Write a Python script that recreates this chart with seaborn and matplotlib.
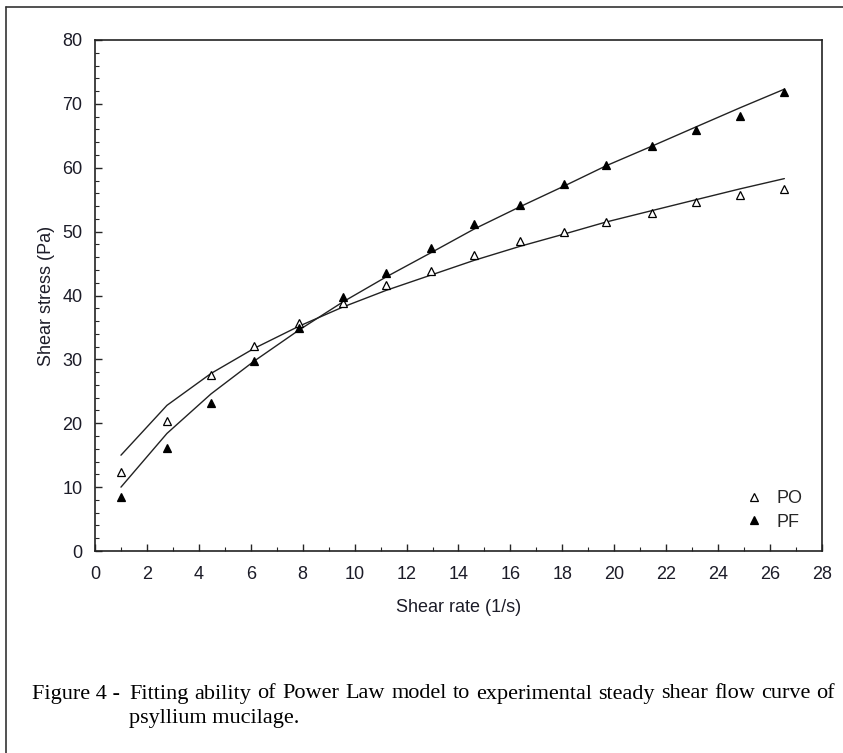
import matplotlib.pyplot as plt
import seaborn as sns
from matplotlib.lines import Line2D
from matplotlib.ticker import MultipleLocator

# shear rate (1/s)
shear_rate = [1.0, 2.77, 4.47, 6.12, 7.86, 9.55, 11.21, 12.94,
              14.6, 16.37, 18.05, 19.68, 21.46, 23.15, 24.85, 26.55]

# measured shear stress (Pa)
po_stress = [12.3, 20.4, 27.6, 32.1, 35.7, 38.8, 41.7, 43.8,
             46.3, 48.5, 49.9, 51.5, 52.9, 54.6, 55.7, 56.7]
pf_stress = [8.4, 16.2, 23.2, 29.7, 34.9, 39.8, 43.6, 47.4,
             51.2, 54.2, 57.4, 60.5, 63.4, 65.9, 68.1, 71.8]

# power law fit lines
po_fit = [15.0, 22.8, 27.8, 31.7, 35.2, 38.2, 40.8, 43.2,
          45.5, 47.7, 49.6, 51.5, 53.3, 55.0, 56.7, 58.3]
pf_fit = [10.0, 18.4, 24.6, 29.7, 34.6, 39.0, 42.9, 46.7,
          50.4, 53.9, 57.1, 60.3, 63.4, 66.4, 69.4, 72.3]

caption_head = 'Figure 4 -'
caption_line1 = 'Fitting ability of Power Law model to experimental steady shear flow curve of'
caption_line2 = 'psyllium mucilage.'

sns.set_style("ticks")
plt.rcParams['font.family'] = ['Liberation Sans', 'DejaVu Sans']

W, H = 843, 753
fig = plt.figure(figsize=(W / 100, H / 100), dpi=100)
ax = fig.add_axes([95 / W, 1 - 551 / H, 727 / W, 511 / H])

# fitted curves
sns.lineplot(x=shear_rate, y=po_fit, ax=ax, color='#222222', lw=1.0)
sns.lineplot(x=shear_rate, y=pf_fit, ax=ax, color='#222222', lw=1.0)

# experimental points
ax.plot(shear_rate, po_stress, ls='none', marker='^', ms=6,
        mfc='white', mec='black', mew=0.9, label='PO')
ax.plot(shear_rate, pf_stress, ls='none', marker='^', ms=6,
        mfc='black', mec='black', mew=0.9, label='PF')

ax.set_xlim(0, 28)
ax.set_ylim(0, 80)
ax.xaxis.set_major_locator(MultipleLocator(2))
ax.xaxis.set_minor_locator(MultipleLocator(1))
ax.yaxis.set_major_locator(MultipleLocator(10))
ax.yaxis.set_minor_locator(MultipleLocator(2))
ax.tick_params(which='major', direction='in', length=5, width=1,
               labelsize=13, labelcolor='#1c1c28')
ax.tick_params(axis='x', which='major', pad=11)
ax.tick_params(axis='y', which='major', pad=9)
ax.tick_params(which='minor', direction='in', length=3, width=0.8)
for s in ax.spines.values():
    s.set_linewidth(1.2)
    s.set_color('#222222')

ax.set_xlabel('Shear rate (1/s)', fontsize=13, color='#1c1c28', labelpad=11)
ax.set_ylabel('Shear stress (Pa)', fontsize=13, color='#1c1c28', labelpad=5)

ax.legend(loc='lower right', bbox_to_anchor=(0.995, 0.008), frameon=False,
          fontsize=13, handletextpad=0.7, labelspacing=0.35, handlelength=1.0)

# figure frame (top and left edges)
fig.add_artist(Line2D([6 / W, 1], [1 - 7 / H, 1 - 7 / H],
                      transform=fig.transFigure, color='#333333', lw=1.2))
fig.add_artist(Line2D([6 / W, 6 / W], [0, 1 - 7 / H],
                      transform=fig.transFigure, color='#333333', lw=1.2))

# caption, first line justified between x=129 and x=835
cap = dict(family=['Liberation Serif', 'DejaVu Serif'], fontsize=16, color='black',
           va='center', ha='left')
fig.text(32 / W, 1 - 694 / H, caption_head, **cap)
renderer = fig.canvas.get_renderer()
words = caption_line1.split()
texts = [fig.text(0, 1 - 694 / H, w, **cap) for w in words]
widths = [t.get_window_extent(renderer).width for t in texts]
gap = (835 - 129 - sum(widths)) / (len(words) - 1)
xpos = 129
for t, w in zip(texts, widths):
    t.set_x(xpos / W)
    xpos += w + gap
fig.text(129 / W, 1 - 718 / H, caption_line2, **cap)

fig.savefig('out.png', dpi=100)
